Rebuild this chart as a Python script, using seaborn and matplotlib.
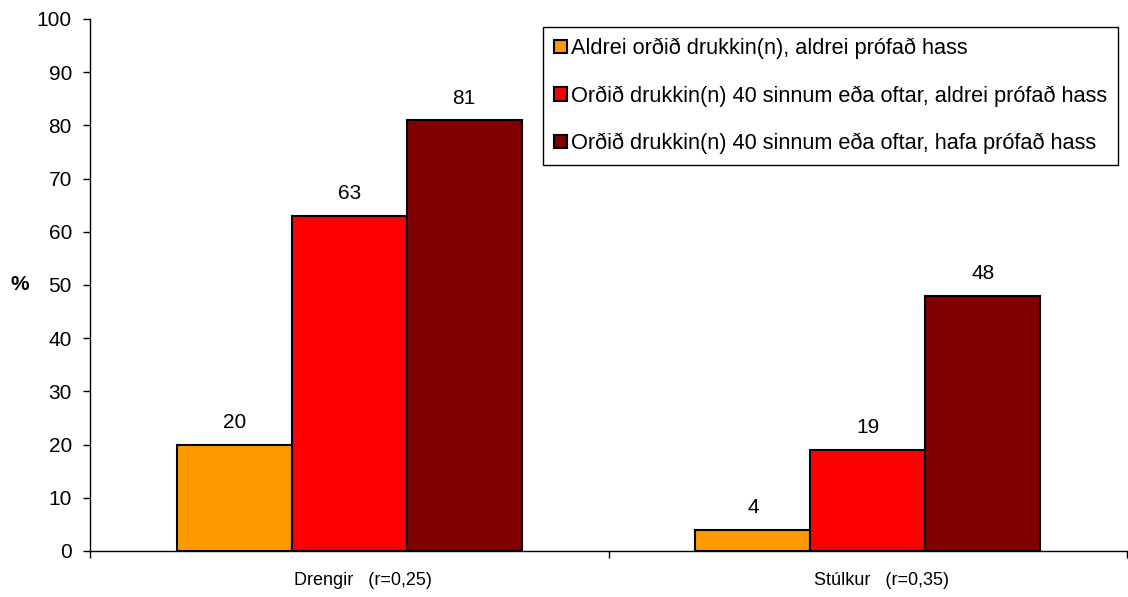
import numpy as np
import pandas as pd
import matplotlib
matplotlib.use("Agg")
import matplotlib.pyplot as plt
import matplotlib.transforms as mtransforms
import seaborn as sns

# gögn lesin af myndinni
groups = ["Drengir   (r=0,25)", "Stúlkur   (r=0,35)"]
series = [
    "Aldrei orðið drukkin(n), aldrei prófað hass",
    "Orðið drukkin(n) 40 sinnum eða oftar, aldrei prófað hass",
    "Orðið drukkin(n) 40 sinnum eða oftar, hafa prófað hass",
]
never_drunk = [20, 4]
drunk_no_hash = [63, 19]
drunk_hash = [81, 48]
colors = ["#FF9900", "#FF0000", "#800000"]

rows = []
for name, vals in zip(series, [never_drunk, drunk_no_hash, drunk_hash]):
    for g, v in zip(groups, vals):
        rows.append({"hopur": g, "flokkur": name, "gildi": v})
df = pd.DataFrame(rows)

sns.set_theme(style="white")
plt.rcParams["font.family"] = ["Liberation Sans", "DejaVu Sans"]
plt.rcParams["text.color"] = "black"
plt.rcParams["xtick.color"] = "black"
plt.rcParams["ytick.color"] = "black"
plt.rcParams["axes.labelcolor"] = "black"

fig = plt.figure(figsize=(11.28, 5.97), dpi=100)
ax = fig.add_axes([90 / 1128, 46 / 597, 1037 / 1128, 532 / 597])

sns.barplot(data=df, x="hopur", y="gildi", hue="flokkur", hue_order=series,
            palette=colors, width=0.665, edgecolor="black", linewidth=1.5,
            saturation=1, ax=ax)

for cont in ax.containers:
    ax.bar_label(cont, labels=[f"{v:.0f}" for v in cont.datavalues],
                 padding=9, fontsize=15)

ax.set_ylim(0, 100)
ax.set_yticks(np.arange(0, 101, 10))
ax.set_xlim(-0.5, 1.5)
ax.set_xticks([-0.5, 0.5, 1.5], minor=True)
ax.tick_params(axis="x", which="major", length=0, labelsize=13, pad=15)
ax.tick_params(axis="x", which="minor", length=5, width=1, direction="out", bottom=True)
ax.tick_params(axis="y", length=5, width=1, direction="out", left=True, labelsize=15, pad=8)
# flokkaheitin standa aðeins hægra megin við miðju í frumritinu
shift = mtransforms.ScaledTranslation(0.14, 0, fig.dpi_scale_trans)
for lbl in ax.get_xticklabels():
    lbl.set_transform(lbl.get_transform() + shift)
ax.set_xlabel("")
ax.set_ylabel("%", rotation=0, fontsize=15, fontweight="bold", va="center")
ax.yaxis.set_label_coords(-0.068, 0.5)

for side in ["top", "right"]:
    ax.spines[side].set_visible(False)
for side in ["left", "bottom"]:
    ax.spines[side].set_color("black")
    ax.spines[side].set_linewidth(1)

leg = ax.legend(loc="upper right", bbox_to_anchor=(0.991, 0.985), borderaxespad=0,
                fontsize=15.7, frameon=True, fancybox=False, edgecolor="black",
                labelspacing=1.2, handlelength=0.6, handleheight=0.6,
                handletextpad=0.15, borderpad=0.5)
leg.get_frame().set_linewidth(1)
leg.get_frame().set_alpha(1)

fig.savefig("out.png", dpi=100)
